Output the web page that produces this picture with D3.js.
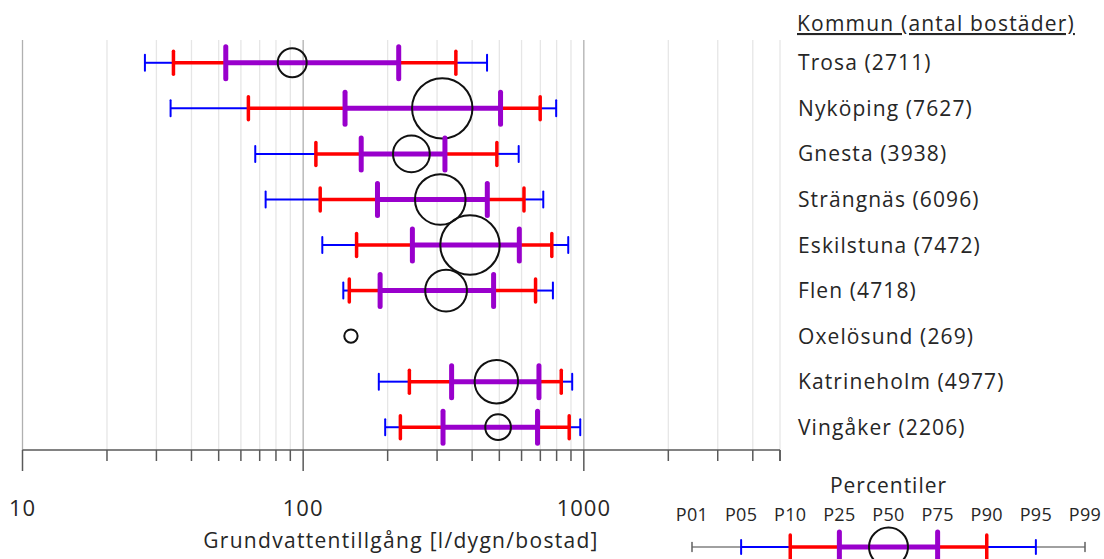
<!DOCTYPE html>
<html>
<head>
<meta charset="utf-8">
<script src="https://cdn.jsdelivr.net/npm/d3@7"></script>
<style>
  html, body { margin: 0; padding: 0; background: #fff; }
  svg { display: block; font-family: "Open Sans", Lato, sans-serif; }
</style>
</head>
<body>
<svg id="chart" width="1104" height="559"></svg>
<script>
// Municipalities and number of dwellings
const kommuner = ["Trosa", "Nyköping", "Gnesta", "Strängnäs", "Eskilstuna", "Flen", "Oxelösund", "Katrineholm", "Vingåker"];
const bostader = [2711, 7627, 3938, 6096, 7472, 4718, 269, 4977, 2206];

// Groundwater availability percentiles [l/dygn/bostad]; null where not available
const p05 = [27.3, 33.7, 67.5, 73.5, 117, 139, null, 186, 196];
const p10 = [34.5, 63.8, 111, 115, 155, 146, null, 239, 222];
const p25 = [53, 141, 161, 184, 245, 188, null, 338, 315];
const p50 = [91.4, 313, 243, 308, 393, 323, 148, 488, 495];
const p75 = [219, 505, 320, 453, 589, 477, null, 692, 684];
const p90 = [350, 699, 490, 612, 769, 673, null, 831, 887];
const p95 = [452, 797, 586, 717, 880, 776, null, 909, 971];

const majorTicks = [10, 100, 1000];
const legendLabels = ["P01", "P05", "P10", "P25", "P50", "P75", "P90", "P95", "P99"];

const BLUE = "#0000ff", RED = "#ff0000", PURPLE = "#9900cc", TEXT = "#262626";

const svg = d3.select("#chart");

const x = d3.scaleLog().domain([10, 5000]).range([22.5, 780]);
const y = d3.scaleBand().domain(kommuner).range([40, 450]);
const r = d3.scaleLinear().domain([0, 8000]).range([5.8, 31.4]);

// Gridlines at every decade step
const gridVals = [];
for (let d = 10; d < 5000; d *= 10) for (let k = 1; k < 10; k++) if (d * k <= 5000) gridVals.push(d * k);
svg.append("g").selectAll("line").data(gridVals).join("line")
  .attr("x1", d => x(d)).attr("x2", d => x(d))
  .attr("y1", 40).attr("y2", 450)
  .attr("stroke", d => majorTicks.includes(d) ? "#b0b0b0" : "#e6e6e6")
  .attr("stroke-width", 1.3);

// X axis
const axisG = svg.append("g").attr("transform", "translate(0,450)");
axisG.append("line").attr("x1", x(10)).attr("x2", x(5000)).attr("stroke", "#595959").attr("stroke-width", 1.5);
axisG.selectAll("line.tick").data(gridVals.concat([5000])).join("line")
  .attr("class", "tick")
  .attr("x1", d => x(d)).attr("x2", d => x(d))
  .attr("y1", 0).attr("y2", d => majorTicks.includes(d) ? 21 : 11)
  .attr("stroke", "#595959").attr("stroke-width", 1.5);
svg.append("g").selectAll("text").data(majorTicks).join("text")
  .attr("x", d => x(d)).attr("y", 516)
  .attr("text-anchor", "middle").attr("font-size", 22).attr("letter-spacing", 1).attr("fill", TEXT)
  .text(d => d);
svg.append("text").attr("x", 401).attr("y", 548)
  .attr("text-anchor", "middle").attr("font-size", 21).attr("letter-spacing", 1.3).attr("fill", TEXT)
  .text("Grundvattentillgång [l/dygn/bostad]");

// Rows
const rows = kommuner.map((k, i) => ({
  k, n: bostader[i], p05: p05[i], p10: p10[i], p25: p25[i], p50: p50[i], p75: p75[i], p90: p90[i], p95: p95[i]
}));
const rowG = svg.append("g").selectAll("g").data(rows).join("g")
  .attr("transform", d => `translate(0,${y(d.k) + y.bandwidth() / 2})`);

function segment(sel, a, b, color, w) {
  sel.filter(d => d[a] != null).append("line")
    .attr("x1", d => x(d[a])).attr("x2", d => x(d[b]))
    .attr("stroke", color).attr("stroke-width", w);
}
function tick(sel, key, color, w, h) {
  sel.filter(d => d[key] != null).append("line")
    .attr("x1", d => x(d[key])).attr("x2", d => x(d[key]))
    .attr("y1", -h / 2).attr("y2", h / 2)
    .attr("stroke", color).attr("stroke-width", w).attr("stroke-linecap", "round");
}
segment(rowG, "p05", "p10", BLUE, 2);
segment(rowG, "p90", "p95", BLUE, 2);
segment(rowG, "p10", "p25", RED, 3.5);
segment(rowG, "p75", "p90", RED, 3.5);
segment(rowG, "p25", "p75", PURPLE, 5);
tick(rowG, "p05", BLUE, 2, 16);
tick(rowG, "p95", BLUE, 2, 16);
tick(rowG, "p10", RED, 3.5, 23);
tick(rowG, "p90", RED, 3.5, 23);
tick(rowG, "p25", PURPLE, 5, 32);
tick(rowG, "p75", PURPLE, 5, 32);
rowG.append("circle")
  .attr("cx", d => x(d.p50)).attr("cy", 0).attr("r", d => r(d.n))
  .attr("fill", "none").attr("stroke", "#111").attr("stroke-width", 2);

// Category labels
rowG.append("text").attr("x", 798).attr("y", 7.5)
  .attr("font-size", 21).attr("letter-spacing", 1.1).attr("fill", TEXT)
  .text(d => `${d.k} (${d.n})`);
svg.append("text").attr("x", 797).attr("y", 31)
  .attr("font-size", 21).attr("letter-spacing", 1.2).attr("fill", TEXT)
  .attr("text-decoration", "underline")
  .text("Kommun (antal bostäder)");

// Percentile legend
const lx = d3.scalePoint().domain(legendLabels).range([692, 1085]);
const ly = 547;
const leg = svg.append("g");
leg.append("text").attr("x", lx("P50")).attr("y", 493)
  .attr("text-anchor", "middle").attr("font-size", 21).attr("letter-spacing", 1).attr("fill", TEXT).text("Percentiler");
leg.selectAll("text.pl").data(legendLabels).join("text").attr("class", "pl")
  .attr("x", d => lx(d)).attr("y", 521)
  .attr("text-anchor", "middle").attr("font-size", 18).attr("letter-spacing", 0.3).attr("fill", TEXT).text(d => d);
const legSegs = [
  ["P01", "P05", "#808080", 1.5], ["P95", "P99", "#808080", 1.5],
  ["P05", "P10", BLUE, 2], ["P90", "P95", BLUE, 2],
  ["P10", "P25", RED, 3.5], ["P75", "P90", RED, 3.5],
  ["P25", "P75", PURPLE, 5]
];
leg.selectAll("line.seg").data(legSegs).join("line").attr("class", "seg")
  .attr("x1", d => lx(d[0])).attr("x2", d => lx(d[1]))
  .attr("y1", ly).attr("y2", ly)
  .attr("stroke", d => d[2]).attr("stroke-width", d => d[3]);
const legTicks = [
  ["P01", "#606060", 1.5, 9], ["P99", "#606060", 1.5, 9],
  ["P05", BLUE, 2, 14], ["P95", BLUE, 2, 14],
  ["P10", RED, 3.5, 24], ["P90", RED, 3.5, 24],
  ["P25", PURPLE, 5, 30], ["P75", PURPLE, 5, 30]
];
leg.selectAll("line.tk").data(legTicks).join("line").attr("class", "tk")
  .attr("x1", d => lx(d[0])).attr("x2", d => lx(d[0]))
  .attr("y1", d => ly - d[3] / 2).attr("y2", d => ly + d[3] / 2)
  .attr("stroke", d => d[1]).attr("stroke-width", d => d[2]).attr("stroke-linecap", "round");
leg.append("circle").attr("cx", lx("P50")).attr("cy", ly).attr("r", 19.5)
  .attr("fill", "none").attr("stroke", "#111").attr("stroke-width", 2);
</script>
</body>
</html>
